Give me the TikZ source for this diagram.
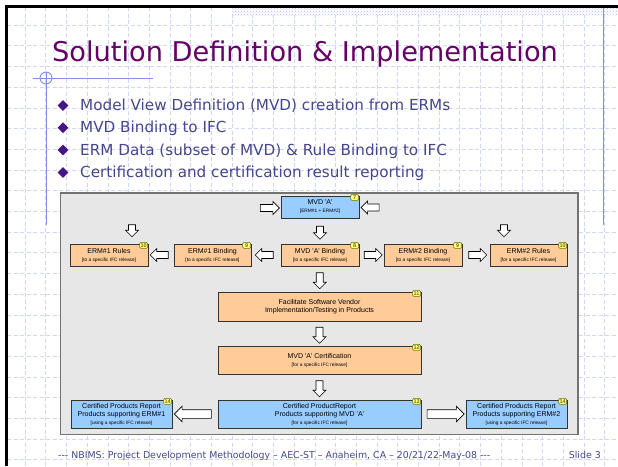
\documentclass[tikz,border=0pt]{standalone}
\usepackage{fontspec}
\setmainfont{DejaVu Sans}
\newfontfamily\boxfont{Liberation Sans}
\usetikzlibrary{shapes.arrows,shapes.geometric,calc,patterns,shadows}

\definecolor{titlepurple}{RGB}{102,0,102}
\definecolor{bullettext}{RGB}{70,70,140}
\definecolor{bulletmark}{RGB}{70,20,135}
\definecolor{gridblue}{RGB}{208,214,246}
\definecolor{ruleblue}{RGB}{125,145,235}
\definecolor{panelgray}{RGB}{231,231,231}
\definecolor{boxblue}{RGB}{153,204,255}
\definecolor{boxorange}{RGB}{255,204,153}
\definecolor{badgefill}{RGB}{255,255,140}
\definecolor{badgeline}{RGB}{110,110,0}

% small second line inside the boxes
\newcommand{\subline}[1]{{\fontsize{4.8}{5.6}\selectfont #1}}

\begin{document}
\begin{tikzpicture}
[x=1pt, y=-1pt,
 gridline/.style={gridblue, line width=0.6pt, dash pattern=on 4pt off 2.5pt},
 ruleline/.style={ruleblue, line width=0.9pt},
 boxdecorate/.style={draw=black!80, line width=0.7pt, inner sep=0pt, align=center,
   font=\boxfont\fontsize{7}{8}\selectfont,
   drop shadow={shadow xshift=0.8pt, shadow yshift=-0.8pt, opacity=0.35}},
 badgedecorate/.style={draw=badgeline, fill=badgefill, rounded corners=1.2pt,
   line width=0.5pt, inner sep=0.5pt, minimum height=6pt, minimum width=8pt,
   font=\boxfont\bfseries\fontsize{5.5}{5.5}\selectfont, text=badgeline},
 arrowdecorate/.style={single arrow, draw=black, fill=white, line width=0.6pt,
   inner xsep=0pt, inner ysep=3.2pt, single arrow head extend=3pt},
 bigarrow/.style={arrowdecorate, inner ysep=4pt, single arrow head extend=3.5pt,
   minimum height=37pt}]
\useasboundingbox (0,0) rectangle (618,466);
\fill[white] (0,0) rectangle (618,466);

%% slide background
\foreach \k in {0,...,28}
  \draw[gridline] ({25+20.7*\k},7) -- ({25+20.7*\k},466);
\foreach \k in {0,...,21}
  \draw[gridline] (7,{25+20.7*\k}) -- (618,{25+20.7*\k});
\fill[white] (232,7.5) rectangle (618,15);
\fill[pattern=crosshatch dots, pattern color=ruleblue!60] (232,7.5) rectangle (618,15);
\draw[line width=2.6pt] (6.5,466) -- (6.5,6.2) -- (618,6.2);
\draw[ruleline] (603,7.5) -- (603,225);
\draw[ruleline] (33,78) -- (153,78);
\draw[ruleline] (46,72) -- (46,225);
\draw[ruleline] (46,78) circle (6);

%% title and bullets
\node (title) at (52,61) [anchor=base west, inner sep=0pt, text=titlepurple,
  font=\fontsize{27.2}{32}\selectfont] {Solution Definition \& Implementation};
\foreach \n/\y/\itemtext in {1/110.5/{Model View Definition (MVD) creation from ERMs},
  2/132.8/{MVD Binding to IFC}, 3/155/{ERM Data (subset of MVD) \& Rule Binding to IFC},
  4/177.5/{Certification and certification result reporting}}
{
  \node (mark\n) at (63,\y-5) [diamond, fill=bulletmark, minimum size=11pt, inner sep=0pt] {};
  \node (item\n) at (80,\y) [anchor=base west, inner sep=0pt, text=bullettext,
    font=\fontsize{15.2}{18}\selectfont] {\itemtext};
}

%% footer
\node (footer) at (58,458) [anchor=base west, inner sep=0pt, text=bullettext,
  font=\fontsize{9.4}{11}\selectfont]
  {-{}-{}- NBIMS: Project Development Methodology – AEC-ST – Anaheim, CA – 20/21/22-May-08 -{}-{}-};
\node (slide) at (601,458) [anchor=base east, inner sep=0pt, text=bullettext,
  font=\fontsize{9.4}{11}\selectfont] {Slide 3};

%% process panel
\draw[fill=panelgray, draw=black!55, line width=1.2pt] (60.5,193) rectangle (578,434.5);

\foreach \nodename/\x/\y/\w/\h/\colour/\boxtext in {
  mvda/320/207/78/22/boxblue/{MVD 'A'\\\subline{[ERM\#1 + ERM\#2]}},
  erm1rules/109/255/78/22/boxorange/{ERM\#1 Rules\\\subline{[to a specific IFC release]}},
  erm1bind/212.5/255/77/22/boxorange/{ERM\#1 Binding\\\subline{[to a specific IFC release]}},
  mvdabind/320/255/78/22/boxorange/{MVD 'A' Binding\\\subline{[to a specific IFC release]}},
  erm2bind/423/255/78/22/boxorange/{ERM\#2 Binding\\\subline{[to a specific IFC release]}},
  erm2rules/528.5/255/77/22/boxorange/{ERM\#2 Rules\\\subline{[for a specific IFC release]}},
  facil/319.5/306.5/203/29/boxorange/{Facilitate Software Vendor\\Implementation/Testing in Products},
  cert/319.5/360/203/28/boxorange/{MVD 'A' Certification\\\subline{[for a specific IFC release]}},
  rep1/121.5/414/101/28/boxblue/{Certified Products Report\\Products supporting ERM\#1\\\subline{[using a specific IFC release]}},
  repmvd/319.5/414/203/28/boxblue/{Certified ProductReport\\Products supporting MVD 'A'\\\subline{[for a specific IFC release]}},
  rep2/516.5/414/101/28/boxblue/{Certified Products Report\\Products supporting ERM\#2\\\subline{[using a specific IFC release]}}}
{
  \node (\nodename) at (\x,\y) [boxdecorate, fill=\colour,
    minimum width=\w pt, minimum height=\h pt] {\boxtext};
}

%% numbered tags
\foreach \nodename/\number in {mvda/7, erm1rules/10, erm1bind/9, mvdabind/8,
  erm2bind/9, erm2rules/10, facil/11, cert/12, rep1/14, repmvd/13, rep2/14}
{
  \node (badge-\nodename) [badgedecorate, anchor=north east]
    at ([xshift=-0.5pt, yshift=1.5pt]\nodename.north east) {\number};
}

%% block arrows between boxes
\foreach \arrowname/\from/\to/\angle/\len in {
  a1/mvda.south/mvdabind.north/-90/13,
  a2/mvdabind.west/erm1bind.east/180/18, a3/erm1bind.west/erm1rules.east/180/18,
  a4/mvdabind.east/erm2bind.west/0/18, a5/erm2bind.east/erm2rules.west/0/18,
  a6/mvdabind.south/facil.north/-90/16, a7/facil.south/cert.north/-90/16,
  a8/cert.south/repmvd.north/-90/16}
{
  \node (\arrowname) at ($(\from)!0.5!(\to)$) [arrowdecorate, rotate=\angle,
    minimum height=\len pt] {};
}
\node (a9) at ($(repmvd.west)!0.5!(rep1.east)$) [bigarrow, rotate=180] {};
\node (a10) at ($(repmvd.east)!0.5!(rep2.west)$) [bigarrow] {};

%% block arrows coming in from outside
\node (in1) at ([xshift=-12.5pt, yshift=-1pt]mvda.west) [arrowdecorate, minimum height=19pt] {};
\node (in2) at ([xshift=12.5pt, yshift=-0.5pt]mvda.east) [arrowdecorate, rotate=180, minimum height=18pt] {};
\node (in3) at (132,229) [arrowdecorate, rotate=-90, minimum height=12pt] {};
\node (in4) at (504,229) [arrowdecorate, rotate=-90, minimum height=12pt] {};
\end{tikzpicture}
\end{document}
